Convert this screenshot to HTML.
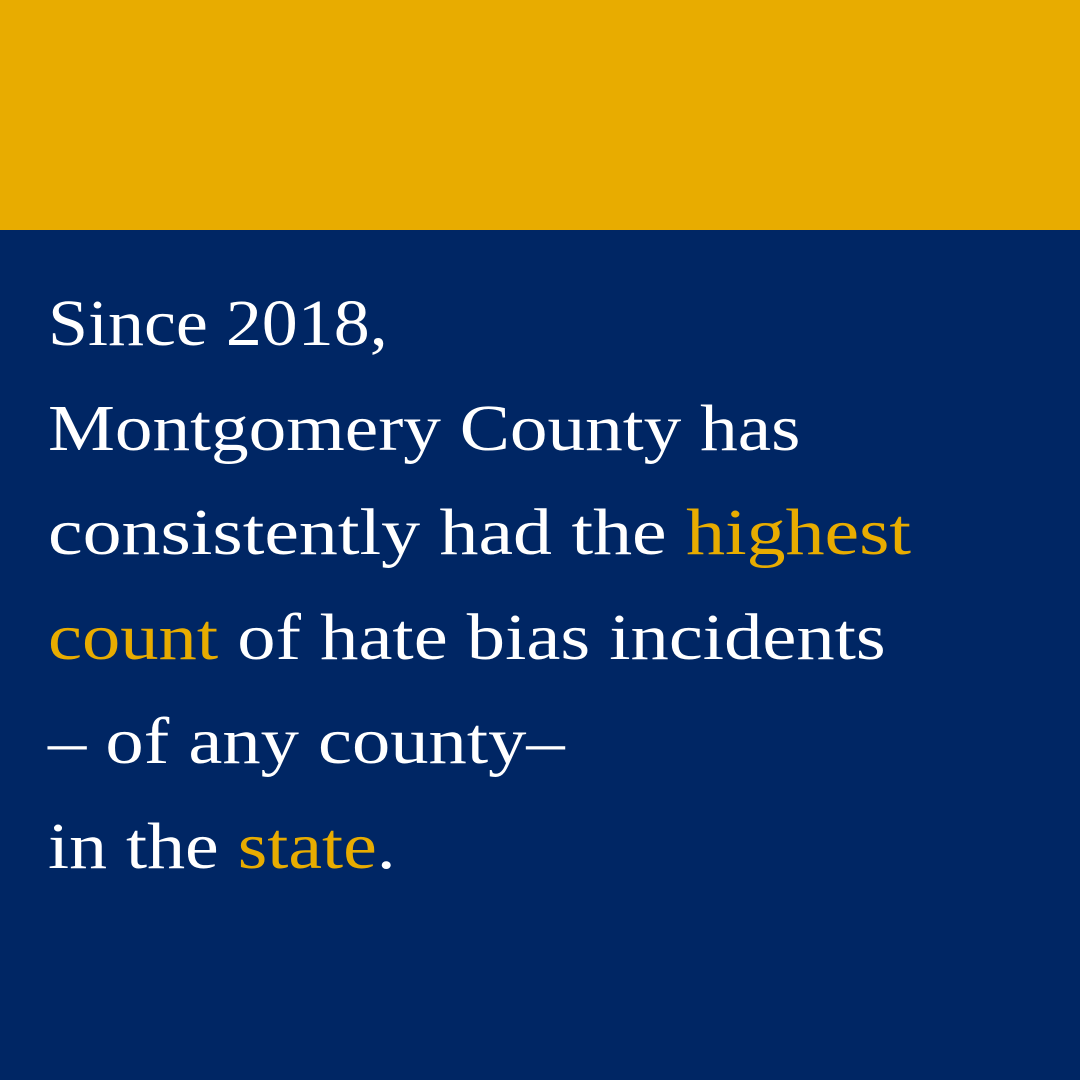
<!DOCTYPE html>
<html><head><meta charset="utf-8"><style>
html,body{margin:0;padding:0;}
body{width:1080px;height:1080px;background:#002664;position:relative;overflow:hidden;}
.top{position:absolute;left:0;top:0;width:1080px;height:230px;background:#E8AC00;}
.txt{position:absolute;left:48px;top:272px;font-family:"Liberation Serif",serif;font-size:66px;line-height:104.5px;color:#fff;white-space:nowrap;}
.ln{height:104.5px;transform-origin:0 0;}
.hl{color:#E8AC00;}
</style></head><body>
<div class="top"></div>
<div class="txt">
<div class="ln" style="transform:scaleX(1.09)">Since 2018,</div>
<div class="ln" style="transform:scaleX(1.14)">Montgomery County has</div>
<div class="ln" style="transform:scaleX(1.18)">consistently had the <span class="hl">highest</span></div>
<div class="ln" style="transform:scaleX(1.16)"><span class="hl">count</span> of hate bias incidents</div>
<div class="ln" style="transform:scaleX(1.16)">– of any county–</div>
<div class="ln" style="transform:scaleX(1.15)">in the <span class="hl">state</span>.</div>
</div>
</body></html>
